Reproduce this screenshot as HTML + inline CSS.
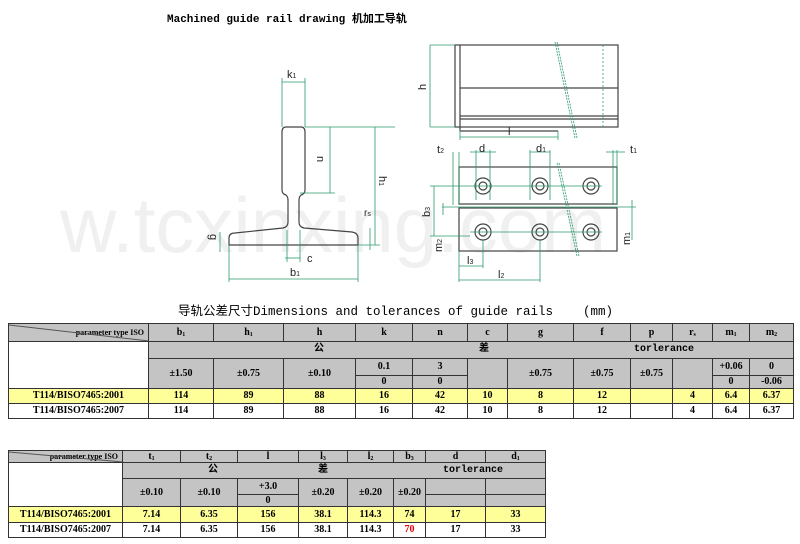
<!DOCTYPE html>
<html><head><meta charset="utf-8"><style>
body{margin:0;width:800px;height:544px;background:#fff;position:relative;overflow:hidden;font-family:"Liberation Serif","Noto Serif CJK SC",serif}
.t{position:absolute;border-collapse:collapse;table-layout:fixed;font-size:10px;font-weight:bold}
.t td{border:1px solid #333;text-align:center;padding:0;line-height:10px;overflow:hidden;white-space:nowrap}
.s{font-size:6px;line-height:6px;vertical-align:baseline;position:relative;top:1px}
.g{background:#c4c4c4}.y{background:#ffff99}
.pt{position:relative;font-size:8px;text-align:right!important;padding-right:4px!important}
.pt svg{position:absolute;left:0;top:0}
.ttl{position:absolute;font-family:"Liberation Mono","Noto Sans CJK SC",monospace;font-weight:bold}
</style></head><body>
<div class="ttl" style="left:167px;top:10px;font-size:11px">Machined guide rail drawing 机加工导轨</div>
<svg width="800" height="300" style="position:absolute;left:0;top:0" fill="none">
<text x="60" y="252" font-family="Liberation Sans,sans-serif" font-size="78" fill="#f0f0f0">w.tcxinxing.com</text>
<g stroke="#444" stroke-width="1.2">
<path d="M286 127 H301 Q305 127 305 132 V190 Q305 194 301 195 Q299 197 299 200 V222 Q299 227 304 228 L352 232 Q358 233 358 238 V245 H229 V238 Q229 233 235 233 L283 228 Q288 227 288 222 V200 Q288 197 286 195 Q282 194 282 190 V132 Q282 127 286 127Z"/>
<rect x="455" y="45" width="163" height="82"/><line x1="460" y1="45" x2="460" y2="127"/>
<line x1="460" y1="88" x2="618" y2="88"/><line x1="460" y1="116" x2="618" y2="116"/><line x1="460" y1="119" x2="618" y2="119"/>
<path d="M460 127 V131 H558"/>
<rect x="459" y="167" width="158" height="37"/><rect x="459" y="208" width="158" height="43"/>
<circle cx="483" cy="186" r="8"/><circle cx="483" cy="186" r="4"/><circle cx="540" cy="186" r="8"/><circle cx="540" cy="186" r="4"/><circle cx="591" cy="186" r="8"/><circle cx="591" cy="186" r="4"/>
<circle cx="483" cy="232" r="8"/><circle cx="483" cy="232" r="4"/><circle cx="540" cy="232" r="8"/><circle cx="540" cy="232" r="4"/><circle cx="591" cy="232" r="8"/><circle cx="591" cy="232" r="4"/>
</g>
<g stroke="#2a9a6a" stroke-width="0.8">
<line x1="282" y1="78" x2="282" y2="127"/><line x1="305" y1="78" x2="305" y2="127"/><line x1="282" y1="82" x2="305" y2="82"/>
<line x1="305" y1="127" x2="395" y2="127"/><line x1="300" y1="193" x2="335" y2="193"/><line x1="330" y1="127" x2="330" y2="193"/>
<line x1="375" y1="127" x2="375" y2="245"/><line x1="358" y1="245" x2="380" y2="245"/>
<line x1="229" y1="245" x2="229" y2="282"/><line x1="358" y1="245" x2="358" y2="282"/><line x1="229" y1="279" x2="358" y2="279"/>
<line x1="285" y1="258" x2="300" y2="258"/><line x1="287" y1="230" x2="287" y2="262"/><line x1="300" y1="230" x2="300" y2="262"/>
<line x1="220" y1="232" x2="220" y2="252"/><line x1="370" y1="228" x2="370" y2="250"/>
<line x1="430" y1="45" x2="455" y2="45"/><line x1="430" y1="127" x2="455" y2="127"/><line x1="430" y1="45" x2="430" y2="127"/>
<line x1="460" y1="137" x2="558" y2="137"/><line x1="558" y1="131" x2="558" y2="140"/><line x1="460" y1="130" x2="460" y2="140"/>
<line x1="603" y1="45" x2="603" y2="127" stroke-dasharray="2 2"/>
<line x1="555" y1="42" x2="575" y2="138" stroke-dasharray="2 1"/><line x1="557" y1="42" x2="577" y2="138" stroke-dasharray="2 1"/>
<line x1="557" y1="163" x2="577" y2="256" stroke-dasharray="2 1"/><line x1="559" y1="163" x2="579" y2="256" stroke-dasharray="2 1"/>
<line x1="453" y1="152" x2="453" y2="205"/><line x1="459" y1="152" x2="459" y2="205"/>
<line x1="476" y1="150" x2="476" y2="200"/><line x1="490" y1="150" x2="490" y2="200"/><line x1="470" y1="152" x2="496" y2="152"/>
<line x1="530" y1="150" x2="530" y2="200"/><line x1="550" y1="150" x2="550" y2="200"/><line x1="530" y1="152" x2="550" y2="152"/>
<line x1="613" y1="150" x2="613" y2="205"/><line x1="617" y1="150" x2="617" y2="205"/><line x1="606" y1="152" x2="625" y2="152"/>
<line x1="430" y1="186" x2="470" y2="186"/><line x1="430" y1="236" x2="470" y2="236"/><line x1="434" y1="186" x2="434" y2="236"/>
<line x1="442" y1="207" x2="636" y2="207"/><line x1="443" y1="203" x2="443" y2="215"/><line x1="632" y1="200" x2="632" y2="240"/>
<line x1="459" y1="251" x2="459" y2="282"/><line x1="459" y1="266" x2="483" y2="266"/><line x1="483" y1="240" x2="483" y2="268"/>
<line x1="459" y1="280" x2="540" y2="280"/><line x1="540" y1="240" x2="540" y2="282"/>
<line x1="470" y1="186" x2="602" y2="186"/><line x1="470" y1="232" x2="602" y2="232"/>
</g>
<g font-family="Liberation Sans,sans-serif" font-size="11" fill="#222">
<text x="287" y="78">k<tspan font-size="7">1</tspan></text><text x="318" y="165" transform="rotate(90 322 160)">n</text>
<text x="380" y="185" transform="rotate(90 384 180)">h<tspan font-size="7">1</tspan></text>
<text x="364" y="216" font-size="10">r<tspan font-size="7">s</tspan></text><text x="307" y="262">c</text>
<text x="208" y="244" transform="rotate(90 214 240)">g</text><text x="290" y="276">b<tspan font-size="7">1</tspan></text>
<text x="418" y="90" transform="rotate(-90 422 86)">h</text><text x="508" y="135">l</text>
<text x="437" y="153">t<tspan font-size="7">2</tspan></text><text x="479" y="152">d</text><text x="536" y="152">d<tspan font-size="7">1</tspan></text><text x="630" y="153">t<tspan font-size="7">1</tspan></text>
<text x="420" y="215" transform="rotate(-90 426 211)">b<tspan font-size="7">3</tspan></text>
<text x="434" y="252" transform="rotate(-90 438 248)">m<tspan font-size="7">2</tspan></text>
<text x="620" y="243" transform="rotate(-90 626 239)">m<tspan font-size="7">1</tspan></text>
<text x="467" y="264">l<tspan font-size="7">3</tspan></text><text x="498" y="278">l<tspan font-size="7">2</tspan></text>
</g></svg>
<div class="ttl" style="left:178px;top:304px;font-size:12.5px;line-height:16px;font-weight:normal;white-space:nowrap">导轨公差尺寸Dimensions and tolerances of guide rails&nbsp;&nbsp;&nbsp;&nbsp;(mm)</div>
<table class="t" style="left:8px;top:323px;width:785px">
<colgroup><col style="width:140px"><col style="width:65px"><col style="width:70px"><col style="width:72px"><col style="width:57px"><col style="width:55px"><col style="width:40px"><col style="width:66px"><col style="width:57px"><col style="width:42px"><col style="width:40px"><col style="width:37px"><col style="width:44px"></colgroup>
<tr class="g" style="height:18px"><td class="pt"><svg width="140" height="18"><line x1="0" y1="1" x2="140" y2="17" stroke="#555"/></svg>parameter type ISO</td><td>b<span class="s">1</span></td><td>h<span class="s">1</span></td><td>h</td><td>k</td><td>n</td><td>c</td><td>g</td><td>f</td><td>p</td><td>r<span class="s">s</span></td><td>m<span class="s">1</span></td><td>m<span class="s">2</span></td></tr>
<tr style="height:17px"><td rowspan="3"></td><td class="g" colspan="12" style="text-align:left;font-family:'Liberation Mono','Noto Sans CJK SC',monospace"><span style="margin-left:165px">公</span><span style="margin-left:155px">差</span><span style="margin-left:145px">torlerance</span></td></tr>
<tr class="g" style="height:17px"><td rowspan="2">±1.50</td><td rowspan="2">±0.75</td><td rowspan="2">±0.10</td><td>0.1</td><td>3</td><td rowspan="2"></td><td rowspan="2">±0.75</td><td rowspan="2">±0.75</td><td rowspan="2">±0.75</td><td rowspan="2"></td><td>+0.06</td><td>0</td></tr>
<tr class="g" style="height:13px"><td>0</td><td>0</td><td>0</td><td>-0.06</td></tr>
<tr class="y" style="height:15px"><td>T114/BISO7465:2001</td><td>114</td><td>89</td><td>88</td><td>16</td><td>42</td><td>10</td><td>8</td><td>12</td><td></td><td>4</td><td>6.4</td><td>6.37</td></tr>
<tr style="height:15px"><td>T114/BISO7465:2007</td><td>114</td><td>89</td><td>88</td><td>16</td><td>42</td><td>10</td><td>8</td><td>12</td><td></td><td>4</td><td>6.4</td><td>6.37</td></tr>
</table>
<table class="t" style="left:8px;top:450px;width:537px">
<colgroup><col style="width:114px"><col style="width:58px"><col style="width:57px"><col style="width:61px"><col style="width:49px"><col style="width:46px"><col style="width:32px"><col style="width:60px"><col style="width:60px"></colgroup>
<tr class="g" style="height:12px"><td class="pt"><svg width="114" height="12"><line x1="0" y1="1" x2="114" y2="11" stroke="#555"/></svg>parameter type ISO</td><td>t<span class="s">1</span></td><td>t<span class="s">2</span></td><td>l</td><td>l<span class="s">3</span></td><td>l<span class="s">2</span></td><td>b<span class="s">3</span></td><td>d</td><td>d<span class="s">1</span></td></tr>
<tr style="height:16px"><td rowspan="3"></td><td class="g" colspan="8" style="text-align:left;font-family:'Liberation Mono','Noto Sans CJK SC',monospace"><span style="margin-left:85px">公</span><span style="margin-left:100px">差</span><span style="margin-left:115px">torlerance</span></td></tr>
<tr class="g" style="height:16px"><td rowspan="2">±0.10</td><td rowspan="2">±0.10</td><td>+3.0</td><td rowspan="2">±0.20</td><td rowspan="2">±0.20</td><td rowspan="2">±0.20</td><td></td><td></td></tr>
<tr class="g" style="height:12px"><td>0</td><td></td><td></td></tr>
<tr class="y" style="height:16px"><td>T114/BISO7465:2001</td><td>7.14</td><td>6.35</td><td>156</td><td>38.1</td><td>114.3</td><td>74</td><td>17</td><td>33</td></tr>
<tr style="height:15px"><td>T114/BISO7465:2007</td><td>7.14</td><td>6.35</td><td>156</td><td>38.1</td><td>114.3</td><td style="color:#e00">70</td><td>17</td><td>33</td></tr>
</table>
</body></html>
